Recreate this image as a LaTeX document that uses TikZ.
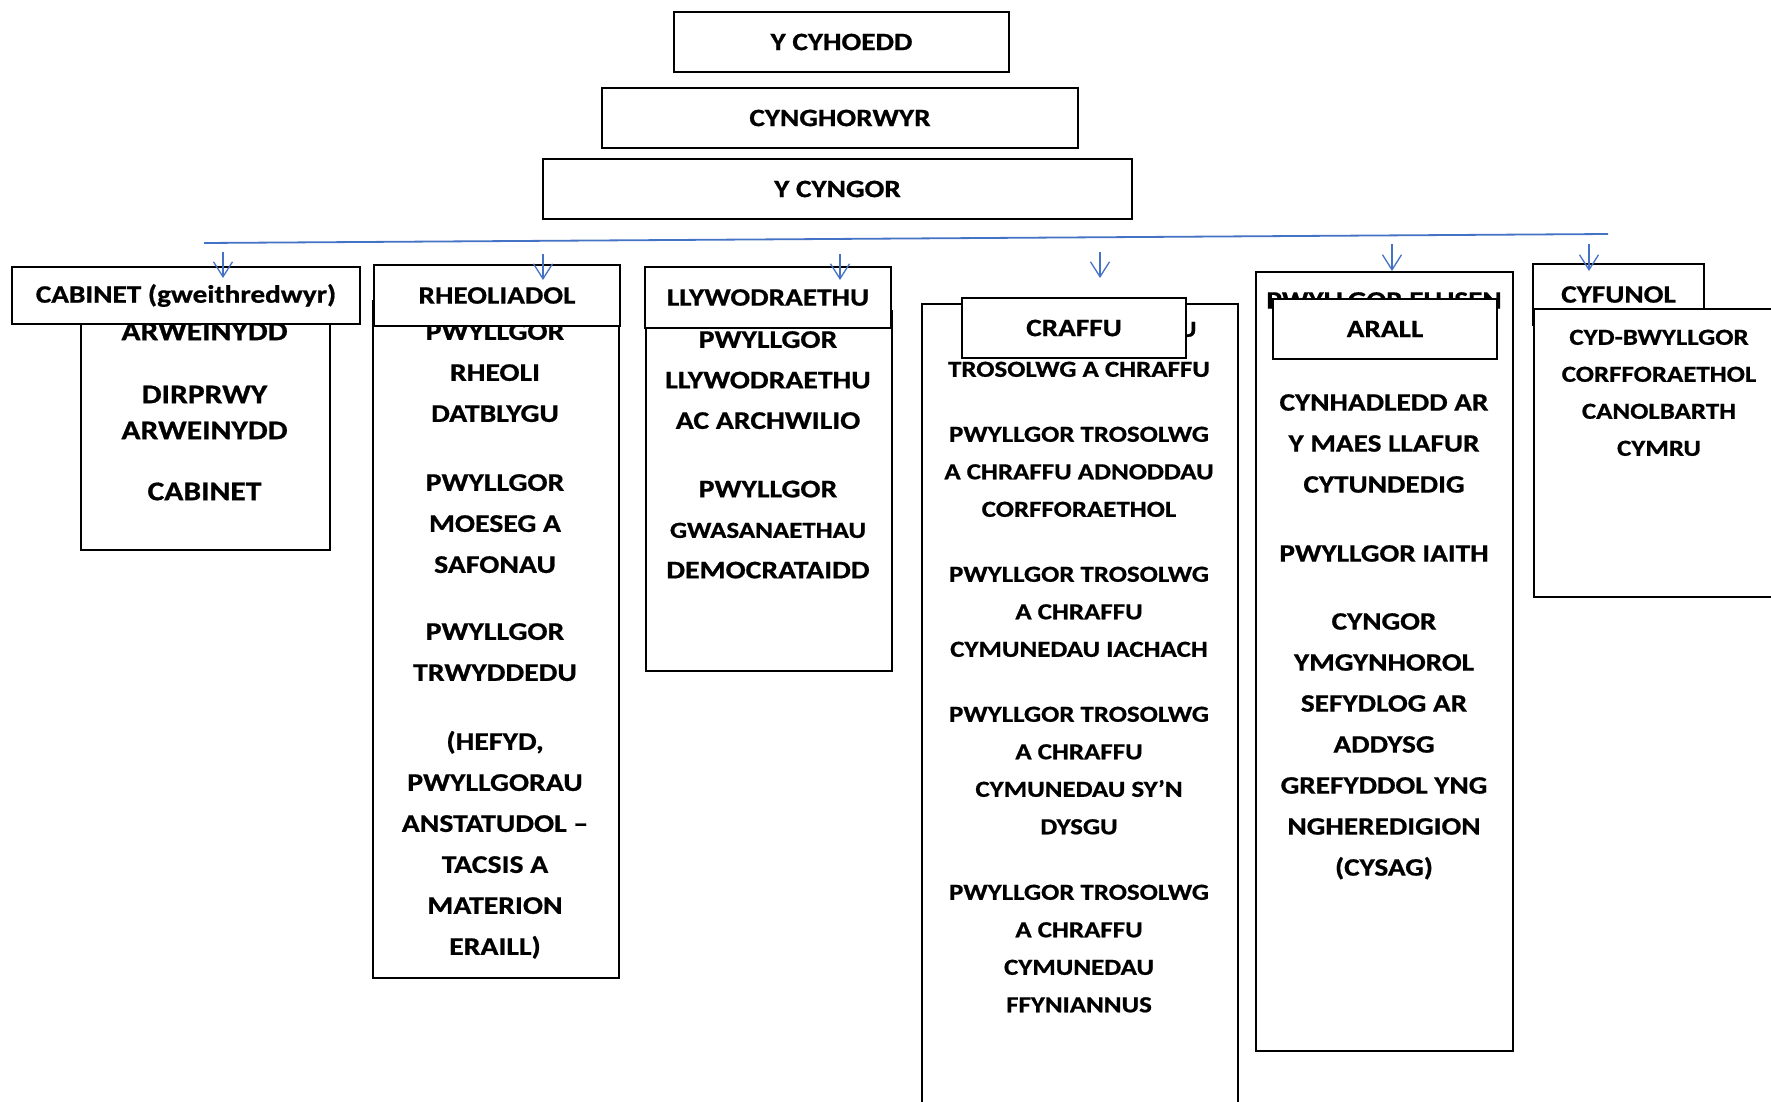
\documentclass[tikz,border=0pt]{standalone}
\usepackage{fontspec}
\setmainfont{Carlito}[FakeStretch=1.17, BoldFeatures={FakeBold=0.8}]
\usetikzlibrary{arrows.meta}
\definecolor{lineblue}{HTML}{4472C4}
\begin{document}
\begin{tikzpicture}[x=1pt,y=-1pt,
  box/.style={draw=black, line width=1.7pt, fill=white, inner sep=0pt, anchor=north west},
  hdr/.style={draw=black, line width=1.7pt, fill=white, inner sep=0pt,
              font=\bfseries\fontsize{25}{30}\selectfont},
  bodytxt/.style={font=\bfseries\fontsize{25.4}{41}\selectfont, align=center, inner sep=0pt, anchor=north},
  smalltxt/.style={font=\bfseries\fontsize{23}{37.5}\selectfont, align=center, inner sep=0pt, anchor=north},
  blueline/.style={draw=lineblue, line width=1.8pt},
  downarrow/.style={draw=lineblue, line width=1.3pt, -{Straight Barb[length=15pt,width=19pt,line width=1.3pt]}}
]
\useasboundingbox (0,0) rectangle (1771,1102);
\clip (0,0) rectangle (1771,1102);

% top boxes
\node[hdr, minimum width=335pt, minimum height=60pt] (pub) at (841.5,42) {Y CYHOEDD};
\node[hdr, minimum width=476pt, minimum height=60pt] (cllr) at (840,118) {CYNGHORWYR};
\node[hdr, minimum width=589pt, minimum height=60pt] (council) at (837.5,189) {Y CYNGOR};

% blue line
\coordinate (L1) at (204,243);
\coordinate (L2) at (1608,234);
\draw[blueline] (L1) -- (L2);

% arrows
\coordinate (a1s) at (223,252); \coordinate (a1e) at (223,278);
\coordinate (a2s) at (543,254); \coordinate (a2e) at (543,280);
\coordinate (a3s) at (840,254); \coordinate (a3e) at (840,280);
\coordinate (a4s) at (1100,252); \coordinate (a4e) at (1100,278);
\coordinate (a5s) at (1392,244); \coordinate (a5e) at (1392,271);
\coordinate (a6s) at (1589,244); \coordinate (a6e) at (1589,271);

% CABINET
\node[box, minimum width=249pt, minimum height=249pt] (cabB) at (80,300) {};
\node[bodytxt, font=\bfseries\fontsize{27}{36}\selectfont] (cabT) at (204.5,322.5)
  {ARWEINYDD\\[27pt] DIRPRWY\\ ARWEINYDD\\[25pt] CABINET};
\node[hdr, minimum width=348pt, minimum height=57pt] (cabH) at (186,295.5) {CABINET (gweithredwyr)};

% RHEOLIADOL
\node[box, minimum width=246pt, minimum height=677pt] (rheB) at (372,300) {};
\node[bodytxt] (rheT) at (495,323)
  {PWYLLGOR\\ RHEOLI\\ DATBLYGU\\[28pt] PWYLLGOR\\ MOESEG A\\ SAFONAU\\[26pt] PWYLLGOR\\ TRWYDDEDU\\[28pt] (HEFYD,\\ PWYLLGORAU\\ ANSTATUDOL –\\ TACSIS A\\ MATERION\\ ERAILL)};
\node[hdr, minimum width=246pt, minimum height=61pt] (rheH) at (497,295.5) {RHEOLIADOL};

% LLYWODRAETHU
\node[box, minimum width=246pt, minimum height=360pt] (llyB) at (645,310) {};
\node[bodytxt, font=\bfseries\fontsize{25.4}{40.5}\selectfont] (llyT) at (768,331)
  {PWYLLGOR\\ LLYWODRAETHU\\ AC ARCHWILIO\\[28pt] PWYLLGOR\\ {\fontsize{23}{40.5}\selectfont GWASANAETHAU}\\ DEMOCRATAIDD};
\node[hdr, minimum width=246pt, minimum height=61pt] (llyH) at (768,297.5) {LLYWODRAETHU};

% CRAFFU
\node[box, minimum width=316pt, minimum height=820pt] (crB) at (921,303) {};
\node[smalltxt] (crT) at (1079,321.5)
  {PWYLLGOR CYDLYNU\\[2.5pt] TROSOLWG A CHRAFFU\\[27.5pt] PWYLLGOR TROSOLWG\\ A CHRAFFU ADNODDAU\\ CORFFORAETHOL\\[27.5pt] PWYLLGOR TROSOLWG\\ A CHRAFFU\\ CYMUNEDAU IACHACH\\[27.5pt] PWYLLGOR TROSOLWG\\ A CHRAFFU\\ CYMUNEDAU SY’N\\ DYSGU\\[28pt] PWYLLGOR TROSOLWG\\ A CHRAFFU\\ CYMUNEDAU\\ FFYNIANNUS};
\node[hdr, minimum width=224pt, minimum height=60pt] (crH) at (1074,328) {CRAFFU};

% ARALL
\node[box, minimum width=257pt, minimum height=779pt] (elB) at (1255,271) {};
\node[bodytxt, font=\bfseries\fontsize{25}{41}\selectfont] (elT) at (1384,292)
  {PWYLLGOR ELUSEN\\[61pt] CYNHADLEDD AR\\ Y MAES LLAFUR\\ CYTUNDEDIG\\[28pt] PWYLLGOR IAITH\\[27pt] CYNGOR\\ YMGYNHOROL\\ SEFYDLOG AR\\ ADDYSG\\ GREFYDDOL YNG\\ NGHEREDIGION\\ (CYSAG)};
\node[hdr, minimum width=224pt, minimum height=60pt] (arH) at (1385,329) {ARALL};

% CYFUNOL
\node[hdr, minimum width=171pt, minimum height=61pt] (cyfH) at (1618.5,294.5) {CYFUNOL};
\node[box, minimum width=257pt, minimum height=288pt] (cyfB) at (1533,308) {};
\node[smalltxt, font=\bfseries\fontsize{23}{37}\selectfont] (cyfT) at (1659,329.5)
  {CYD-BWYLLGOR\\ CORFFORAETHOL\\ CANOLBARTH\\ CYMRU};

% arrows on top
\draw[downarrow] (a1s) -- (a1e);
\draw[downarrow] (a2s) -- (a2e);
\draw[downarrow] (a3s) -- (a3e);
\draw[downarrow] (a4s) -- (a4e);
\draw[downarrow] (a5s) -- (a5e);
\draw[downarrow] (a6s) -- (a6e);
\end{tikzpicture}
\end{document}
